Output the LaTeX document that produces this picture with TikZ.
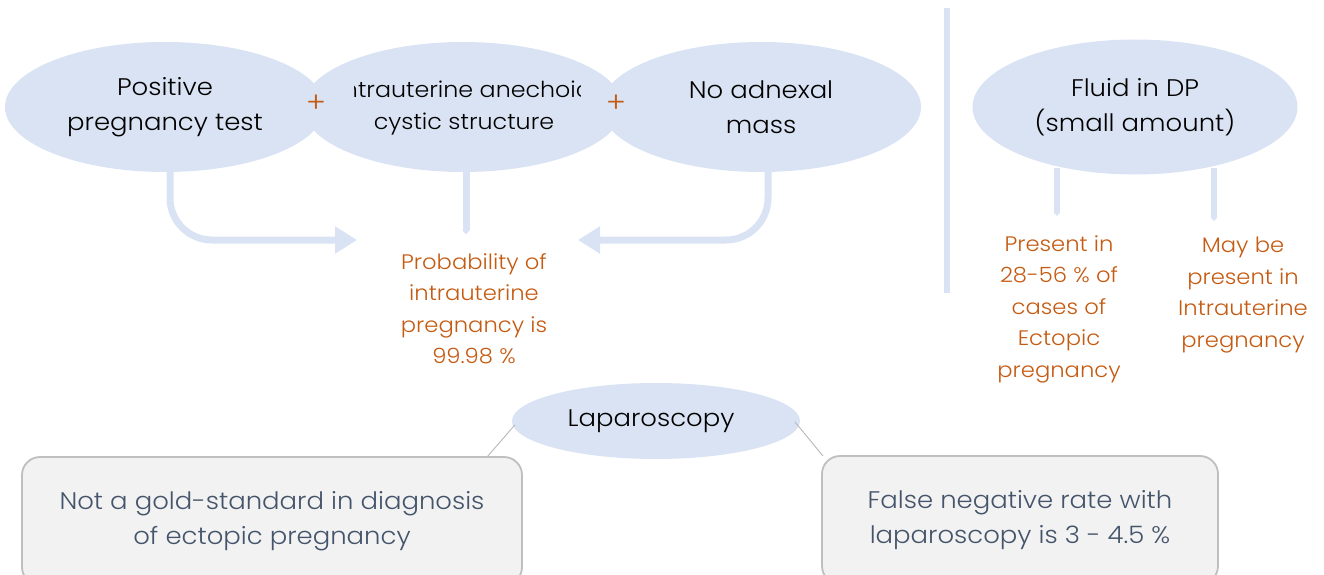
\documentclass[tikz,border=0pt]{standalone}
\usepackage{fontspec}
\setmainfont{Poppins}[UprightFont={* Light}, FakeStretch=1.08]
\usetikzlibrary{arrows.meta,shapes.geometric,calc}
\definecolor{bubble}{HTML}{DAE3F3}
\definecolor{accent}{HTML}{C55A11}
\definecolor{slate}{HTML}{44546A}
\definecolor{boxfill}{HTML}{F2F2F2}
\definecolor{boxline}{HTML}{BFBFBF}
\begin{document}
\begin{tikzpicture}[x=1pt,y=-1pt,
  bubblenode/.style={ellipse, fill=bubble, inner sep=0pt, minimum width=320pt, minimum height=130pt,
    align=center, font=\fontsize{24}{35}\selectfont, text=black},
  plus/.style={text=accent, font=\fontsize{28}{28}\selectfont, inner sep=0pt},
  note/.style={text=accent, align=center, font=\fontsize{21}{31.5}\selectfont, inner sep=0pt},
  flow/.style={draw=bubble, line width=7pt},
  flowarrow/.style={flow, -{Triangle[width=26pt,length=22pt]}},
  flowend/.style={flow, -{Triangle[width=7pt,length=4pt]}},
  infobox/.style={draw=boxline, line width=1.8pt, fill=boxfill, rounded corners=18pt,
    align=center, text=slate, font=\fontsize{24}{35}\selectfont},
  leader/.style={draw=black!28, line width=0.9pt}]
\useasboundingbox (0,0) rectangle (1324,575);

% top row: three combined findings
\node[bubblenode] (test) at (165,107) {Positive\\pregnancy test};
\node[bubblenode] (cyst) at (463,107) {};
\node[bubblenode] (mass) at (761,107) {No adnexal\\mass};
\begin{scope}
  \clip (354,60) rectangle (580,150);
  \node[align=center, font=\fontsize{22}{32}\selectfont, inner sep=0pt] (cysttext) at (464,108)
    {Intrauterine anechoic\\cystic structure};
\end{scope}
\node[plus] (p1) at (316,104) {+};
\node[plus] (p2) at (616,104) {+};

% combined result
\node[note] (prob) at (474,309) {Probability of\\intrauterine\\pregnancy is\\99.98 \%};
\coordinate (inL) at (357,240);
\coordinate (inR) at (578,240);
\draw[flowarrow, rounded corners=42pt] ($(test.south)+(5,-8)$) |- (inL);
\draw[flowend] ($(cyst.south)+(3,-8)$) -- ($(cyst.south)+(3,62)$);
\draw[flowarrow, rounded corners=42pt] ($(mass.south)+(7,-8)$) |- (inR);

% divider
\draw[draw=bubble, line width=6pt] (947,8) -- (947,293);

% fluid in the pouch of Douglas
\node[bubblenode, minimum width=325pt, minimum height=135pt] (fluid) at (1135,107) {Fluid in DP\\(small amount)};
\node[note] (ectopic) at (1059,309) {Present in\\28-56 \% of\\cases of\\Ectopic\\pregnancy};
\node[note] (iup) at (1243,295) {May be\\present in\\Intrauterine\\pregnancy};
\draw[flowend, line width=6pt] (1057,168) -- (1057,216);
\draw[flowend, line width=6pt] (1214,168) -- (1214,221);

% laparoscopy
\node[bubblenode, minimum width=288pt, minimum height=76pt] (lap) at (656,421) {\hspace*{-10pt}Laparoscopy};
\node[infobox, minimum width=500pt, minimum height=128pt] (gold) at (272,521)
  {Not a gold-standard in diagnosis\\of ectopic pregnancy};
\node[infobox, minimum width=396pt, minimum height=128pt] (fneg) at (1020,520)
  {False negative rate with\\laparoscopy is 3 - 4.5 \%};
\coordinate (gTop) at (487,457);
\coordinate (fTop) at (823,456);
\draw[leader] (lap.west |- 0,425) ++(3,0) -- (gTop);
\draw[leader] (795,422) -- (fTop);
\end{tikzpicture}
\end{document}
